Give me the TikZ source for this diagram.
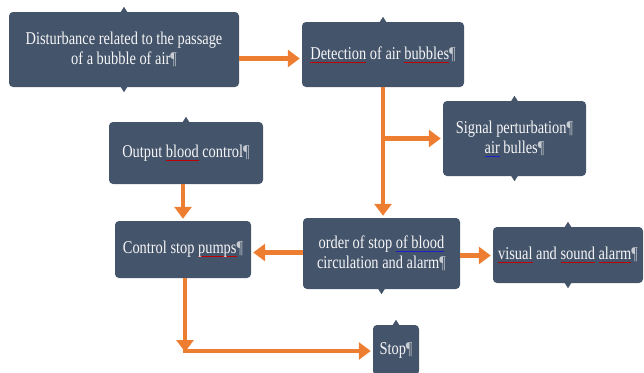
\documentclass[tikz,border=0pt]{standalone}
\usepackage{fontspec}
\setmainfont{Liberation Serif}[FakeStretch=0.8]
\usetikzlibrary{arrows.meta,calc}
\definecolor{boxblue}{HTML}{44546A}
\definecolor{flowor}{HTML}{ED7D31}
\definecolor{spellred}{HTML}{C00000}
\definecolor{spellblue}{HTML}{1F1FC8}
\newlength\spellwd
\newcommand\spell[2]{\settowidth\spellwd{#2}\rlap{\color{#1}\rule[-3pt]{\spellwd}{0.7pt}}#2}
\newcommand\pil{{\color{white!70!boxblue}\P}}
\tikzset{
	stepbox/.style={rectangle, rounded corners=4pt, fill=boxblue, text=white!95!boxblue, align=center, inner sep=2pt, font=\fontsize{18}{20}\selectfont},
	flow/.style={draw=flowor, line width=4.5pt, shorten >=2pt, -{Triangle[length=12pt,width=17pt]}},
}
% small points on the box edges
\newcommand\tipup[1]{\fill[boxblue] ($(#1.north)+(-3.5,0.5)$) -- ($(#1.north)+(0,-5)$) -- ($(#1.north)+(3.5,0.5)$) -- cycle;}
\newcommand\tipdown[1]{\fill[boxblue] ($(#1.south)+(-3.5,-0.5)$) -- ($(#1.south)+(0,5)$) -- ($(#1.south)+(3.5,-0.5)$) -- cycle;}

\begin{document}
\begin{tikzpicture}[x=1pt, y=-1pt]
			%%%%% START %%%%%
			\useasboundingbox (0, 0) rectangle (644, 372);
			
			\node[stepbox, minimum width=230, minimum height=75] (dist) at (124, 49.5) {Disturbance related to the passage\\of a bubble of air\pil};
			\node[stepbox, minimum width=162, minimum height=65] (detect) at (383, 54.5) {\spell{spellred}{Detection} of air \spell{spellred}{bubbles}\pil};
			\node[stepbox, minimum width=143, minimum height=75] (signal) at (514.5, 138.5) {Signal perturbation\pil\\\spell{spellblue}{air} bulles\pil};
			\node[stepbox, minimum width=154, minimum height=62] (output) at (186, 153) {Output \spell{spellred}{blood} control\pil};
			\node[stepbox, minimum width=136, minimum height=57] (control) at (183, 249.5) {Control stop \spell{spellred}{pumps}\pil};
			\node[stepbox, minimum width=157, minimum height=71] (order) at (381.5, 253.5) {order of stop \spell{spellblue}{of  blood}\\circulation and alarm\pil};
			\node[stepbox, minimum width=150, minimum height=56] (visual) at (568, 255) {\spell{spellred}{visual} and \spell{spellred}{sound} \spell{spellred}{alarm}\pil};
			\node[stepbox, minimum width=46, minimum height=50] (stop) at (396, 350) {Stop\pil};
			
			\tipup{dist} \tipdown{dist}
			\tipup{detect}
			\tipup{signal} \tipdown{signal}
			\tipup{output}
			\tipdown{order}
			\tipup{visual} \tipdown{visual}
			\tipup{stop}
			
			\coordinate (turn) at ($(control.south |- stop.west)+(2, 1)$);
			
			\draw[flow] ([yshift=-4pt]dist.east |- detect.west) -- ([yshift=-4pt]detect.west);
			\draw[flow] (detect.south) -- (detect.south |- order.north);
			\draw[flow] (detect.south |- signal.west) -- (signal.west);
			\draw[flow] (output.south -| control.north) -- (control.north);
			\draw[flow] ([yshift=1pt]order.west) -- ([yshift=1pt]order.west -| control.east);
			\draw[flow] ([yshift=-2pt]order.east) -- ([yshift=-2pt]order.east -| visual.west);
			\draw[flow, shorten >=-1pt] (turn |- control.south) -- (turn);
			\draw[flow, shorten <=-2pt] (turn) -- (turn -| stop.west);
			
			%%%%% END %%%%%
\end{tikzpicture}
\end{document}
